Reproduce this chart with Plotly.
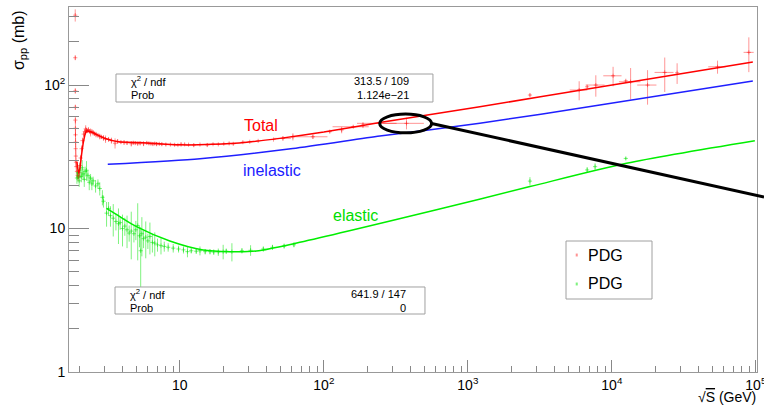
import numpy as np
import plotly.graph_objects as go

# ---- PDG total pp cross section: sqrt(s) [GeV], sigma [mb], errors ----
tot_sqrts = [1.878, 1.879, 1.880, 1.881, 1.882, 1.884, 1.886, 1.889, 1.892, 1.896,
             1.90, 1.91, 1.93, 1.95, 1.97, 1.99, 2.01, 2.03, 2.05, 2.08,
             2.11, 2.15, 2.19, 2.22, 2.25, 2.28, 2.32, 2.36, 2.40, 2.45,
             2.50, 2.56, 2.62, 2.70, 2.78, 2.85, 2.95, 3.05, 3.20, 3.35,
             3.55, 3.70, 3.90, 4.10, 4.30, 4.60, 4.75, 4.90, 5.10, 5.30,
             5.60, 5.90, 6.10, 6.30, 6.50, 6.70, 6.90, 7.20, 7.50, 8.00,
             8.60, 9.20, 9.70, 10.2, 10.8, 11.5, 12.5, 13.8, 15.5, 17.0,
             18.5, 20.2, 22.0, 23.5, 27.4, 30.6, 35.0, 44.7, 52.0, 61.0,
             84.0, 110, 133, 160, 187, 245, 375, 2700, 5930, 6740,
             7740, 10200, 12500, 13500, 17700, 23300, 28400, 54200, 89400]
tot_sigma = [307, 155, 91, 70, 57, 50, 45, 40, 36, 32,
             29, 27, 25, 23.5, 22.8, 23.2, 24.5, 27.5, 31, 36,
             41, 45.5, 47.5, 49.5, 48.3, 47.8, 48.8, 47.5, 46.8, 47.5,
             46.5, 45.8, 45.2, 44.6, 43.8, 43.5, 42.8, 42.0, 41.8, 41.0,
             39.3, 40.5, 40.0, 39.8, 39.5, 39.0, 39.6, 39.4, 39.0, 39.2,
             39.0, 39.5, 39.2, 39.0, 38.8, 39.1, 38.8, 38.9, 38.7, 38.5,
             38.5, 38.3, 38.2, 38.6, 38.6, 38.4, 38.1, 38.5, 38.2, 38.7,
             38.6, 39.0, 39.2, 38.9, 40.0, 40.2, 40.8, 41.7, 42.5, 43.6,
             43.6, 47.3, 48.6, 51.2, 52.6, 54.1, 54.1, 85.2, 92.3, 97.3,
             100, 116, 107, 105.4, 100, 122.5, 121.8, 134, 169]
tot_err = [30, 6, 4, 3, 3, 6, 4, 3, 3, 3,
           2, 2, 2, 1.5, 1.5, 1, 1.5, 1.5, 1.5, 2,
           2, 2, 2, 3, 2, 1.5, 2, 1.5, 3, 1.5,
           2, 1.5, 2, 1.5, 2, 1.5, 2, 2.5, 1.5, 2,
           3.2, 1.5, 1, 1.5, 1.2, 1.7, 1, 1, 1, 1,
           1.5, 1, 1, 0.8, 1, 0.8, 1.3, 0.8, 1.0, 0.8,
           0.5, 0.6, 0.5, 1.2, 0.5, 0.5, 1, 0.5, 1, 0.5,
           0.5, 0.6, 0.6, 0.5, 0.4, 0.3, 0.4, 0.3, 1.5, 2.5,
           1.5, 1, 2.5, 1, 2.5, 1, 5, 2, 14, 2,
           17, 18, 2, 26, 27, 33, 20, 14, 46]
tot_xerr = [0] * 78 + [7, 0,
            22, 0, 0, 45, 0, 75, 120, 0, 830, 0,
            1160, 1480, 0, 2300, 2700, 3500, 0, 7500, 7200]

# ---- PDG elastic pp cross section ----
el_sqrts = [1.93, 1.96, 2.00, 2.03, 2.07, 2.10, 2.13, 2.17, 2.20, 2.25,
            2.30, 2.35, 2.40, 2.45, 2.50, 2.60, 2.70, 2.78, 2.90, 2.95,
            3.10, 3.20, 3.30, 3.45, 3.60, 3.75, 3.85, 4.00, 4.15, 4.30,
            4.45, 4.60, 4.80, 4.95, 5.10, 5.25, 5.35, 5.45, 5.60, 5.80,
            6.00, 6.20, 6.45, 6.70, 7.00, 7.40, 7.80, 8.30, 9.00, 9.80,
            10.6, 11.3, 12.0, 13.0, 13.8, 15.0, 16.2, 17.2, 18.5, 20.0,
            21.0, 23.0, 27.0, 31.0, 38.0, 44.0, 53.0, 62.0, 2700, 6740,
            7650, 12500]
el_sigma = [22.5, 24.5, 21.5, 25.5, 23.0, 26.5, 24.0, 22.0, 25.0, 25.5,
            23.5, 21.0, 22.5, 20.5, 21.5, 19.8, 20.5, 19.0, 16.5, 15.5,
            12.8, 13.8, 12.3, 11.8, 11.2, 10.8, 11.0, 10.0, 10.4, 9.8,
            9.3, 9.6, 9.2, 9.8, 10.5, 8.9, 7.0, 9.2, 8.5, 8.7,
            8.2, 8.8, 8.0, 7.9, 7.7, 7.6, 7.5, 7.4, 7.3, 7.2,
            7.1, 6.9, 7.0, 6.95, 7.0, 6.9, 6.9, 6.85, 6.85, 6.9,
            6.95, 6.9, 7.0, 7.05, 7.2, 7.4, 7.55, 7.7, 21.4, 25.6,
            27.0, 30.8]
el_err = [2, 2.5, 2, 3, 2, 3.5, 2, 2.5, 2, 4,
          2, 2.5, 1.5, 2, 1.5, 2, 1.5, 2, 2, 1.5,
          2.5, 1.5, 2, 3, 1.5, 3, 1.2, 2.5, 1.5, 2.5,
          1.2, 3.5, 1.2, 1.5, 4.5, 1.5, 3.2, 2.8, 1.2, 2.5,
          1, 2.2, 1.2, 1.5, 0.8, 1.0, 0.6, 0.5, 0.5, 0.4,
          0.4, 0.6, 0.3, 0.3, 0.5, 0.3, 0.3, 0.3, 0.4, 0.8,
          0.3, 1.0, 0.3, 0.6, 0.3, 0.3, 0.3, 0.3, 1.4, 1.2,
          1.5, 0.6]

# ---- fitted curves (sqrt(s) [GeV], sigma [mb]) ----
fit_tot_sqrts = [1.93, 1.98, 2.02, 2.08, 2.14, 2.20, 2.26, 2.40, 2.60, 3.0,
                 3.75, 5.27, 10.0, 16.9, 29.2, 49.5, 100, 245, 1211, 8260, 95300]
fit_tot_sigma = [29.2, 24.3, 26.0, 33.0, 40.0, 45.5, 47.8, 47.2, 45.6, 42.6,
                 40.3, 39.7, 38.3, 38.6, 39.9, 42.5, 47.0, 54.8, 70.6, 96.8, 144.6]
fit_inel_sqrts = [3.16, 13.8, 60.9, 245, 1211, 8260, 95300]
fit_inel_sigma = [28.0, 30.7, 36.1, 44.1, 54.1, 72.5, 106.6]
fit_el_sqrts = [3.10, 3.83, 5.0, 8.52, 14.5, 22.2, 34.0, 68.1, 606, 2700, 12650, 98400]
fit_el_sigma = [13.8, 12.1, 10.3, 8.18, 7.08, 6.89, 6.97, 8.01, 13.5, 19.6, 28.5, 40.9]

# ---- fit statistics ----
tot_stats = ["313.5 / 109", "1.124e\u221221"]
el_stats = ["641.9 / 147", "0"]
stat_names = ["\u03c7<sup>2</sup> / ndf", "Prob"]

# ---- axes ----
X_RANGE = [np.log10(1.7), 5.008]
Y_RANGE = [0.0, 2.544]
x_major = [10, 100, 1e3, 1e4, 1e5]
x_major_text = ["10", "10<sup>2</sup>", "10<sup>3</sup>", "10<sup>4</sup>", "10<sup>5</sup>"]
y_major = [1, 10, 100]
y_major_text = ["1", "10", "10<sup>2</sup>"]

FONT = "Liberation Sans, Arial, Helvetica, sans-serif"
RED_PT = "rgba(255,0,0,0.42)"
GREEN_PT = "rgba(0,230,0,0.5)"


def minor_vals(lo_exp, hi_exp, vmin, vmax):
    vals = []
    for e in range(lo_exp, hi_exp + 1):
        for m in range(2, 10):
            v = m * 10.0 ** e
            if vmin <= v <= vmax:
                vals.append(v)
    return vals


def paper_x(v):
    return (np.log10(v) - X_RANGE[0]) / (X_RANGE[1] - X_RANGE[0])


def paper_y(v):
    return (np.log10(v) - Y_RANGE[0]) / (Y_RANGE[1] - Y_RANGE[0])


fig = go.Figure()

# data points
fig.add_trace(go.Scatter(
    x=tot_sqrts, y=tot_sigma, mode="markers",
    marker=dict(symbol="cross-thin", size=3, color=RED_PT, line=dict(width=1, color=RED_PT)),
    error_y=dict(type="data", array=tot_err, width=0, thickness=1, color=RED_PT),
    error_x=dict(type="data", array=tot_xerr, width=0, thickness=1, color=RED_PT),
    showlegend=False))
fig.add_trace(go.Scatter(
    x=el_sqrts, y=el_sigma, mode="markers",
    marker=dict(symbol="cross-thin", size=3, color=GREEN_PT, line=dict(width=1, color=GREEN_PT)),
    error_y=dict(type="data", array=el_err, width=0, thickness=1, color=GREEN_PT),
    showlegend=False))

# fit curves
fig.add_trace(go.Scatter(x=fit_tot_sqrts, y=fit_tot_sigma, mode="lines",
                         line=dict(color="#ff0000", width=1.5, shape="spline", smoothing=0.5),
                         showlegend=False))
fig.add_trace(go.Scatter(x=fit_inel_sqrts, y=fit_inel_sigma, mode="lines",
                         line=dict(color="#1f1fff", width=1.5, shape="spline", smoothing=0.6),
                         showlegend=False))
fig.add_trace(go.Scatter(x=fit_el_sqrts, y=fit_el_sigma, mode="lines",
                         line=dict(color="#00ee00", width=1.5, shape="spline", smoothing=0.8),
                         showlegend=False))

shapes = []
annotations = []


# statistics boxes
def stat_box(x0, x1, y0, y1, tx_l, tx_r, rows_y, values):
    shapes.append(dict(type="rect", xref="paper", yref="paper", x0=x0, x1=x1, y0=y0, y1=y1,
                       line=dict(color="#a0a0a0", width=1), fillcolor="white", layer="above"))
    for name, val, ry in zip(stat_names, values, rows_y):
        annotations.append(dict(xref="paper", yref="paper", x=tx_l, y=ry, text=name,
                                showarrow=False, xanchor="left", yanchor="middle",
                                font=dict(family=FONT, size=11, color="black")))
        annotations.append(dict(xref="paper", yref="paper", x=tx_r, y=ry, text=val,
                                showarrow=False, xanchor="right", yanchor="middle",
                                font=dict(family=FONT, size=11, color="black")))


stat_box(0.0683, 0.529, 0.7397, 0.8164, 0.0872, 0.4978, [0.7973, 0.7589], tot_stats)
stat_box(0.0669, 0.5174, 0.1589, 0.2329, 0.0858, 0.4927, [0.2137, 0.1753], el_stats)

# legend box
shapes.append(dict(type="rect", xref="paper", yref="paper", x0=0.7224, x1=0.8474, y0=0.2, y1=0.3589,
                   line=dict(color="#a0a0a0", width=1), fillcolor="white", layer="above"))
for col, ly in [(RED_PT, 0.3205), (GREEN_PT, 0.2411)]:
    shapes.append(dict(type="rect", xref="paper", yref="paper",
                       x0=0.7365, x1=0.7395, y0=ly - 0.004, y1=ly + 0.004,
                       line=dict(width=0), fillcolor=col, layer="above"))
    annotations.append(dict(xref="paper", yref="paper", x=0.7515, y=ly, text="PDG",
                            showarrow=False, xanchor="left", yanchor="middle",
                            font=dict(family=FONT, size=16, color="black")))

# curve labels
for txt, lx, ly, col in [("Total", 36.5, 52.6, "#ff0000"),
                         ("inelastic", 43.5, 25.2, "#2020ff"),
                         ("elastic", 167, 12.4, "#00dd00")]:
    annotations.append(dict(xref="x", yref="y", x=np.log10(lx), y=np.log10(ly), text=txt,
                            showarrow=False, xanchor="center", yanchor="middle",
                            font=dict(family=FONT, size=16, color=col)))

# highlighted region with pointer line
ecx, ecy = 370.0, 54.0
edx, edy = 0.18, 0.065
ex0 = paper_x(ecx / 10 ** edx)
ex1 = paper_x(ecx * 10 ** edx)
shapes.append(dict(type="circle", xref="paper", yref="paper",
                   x0=ex0, x1=ex1,
                   y0=paper_y(ecy / 10 ** edy), y1=paper_y(ecy * 10 ** edy),
                   line=dict(color="black", width=3), layer="above"))
shapes.append(dict(type="line", xref="paper", yref="paper",
                   x0=ex1, y0=paper_y(ecy), x1=1.0102, y1=0.4795,
                   line=dict(color="black", width=3), layer="above"))

# axis titles
annotations.append(dict(xref="paper", yref="paper", x=-0.0727, y=0.997,
                        text="\u03c3<sub>pp</sub> (mb)", textangle=-90, showarrow=False,
                        xanchor="center", yanchor="top",
                        font=dict(family=FONT, size=16, color="black")))
annotations.append(dict(xref="paper", yref="paper", x=1.0015, y=-0.0685,
                        text="\u221a<span style='text-decoration:overline'>S</span> (GeV)",
                        showarrow=False, xanchor="right", yanchor="middle",
                        font=dict(family=FONT, size=14, color="black")))

axis_common = dict(type="log", showgrid=False, zeroline=False, showline=True,
                   linecolor="#999999", linewidth=1, mirror=True, ticks="inside",
                   tickcolor="#888888", tickwidth=1, automargin=False,
                   tickfont=dict(family=FONT, size=14, color="black"))

fig.update_layout(
    width=764, height=409,
    margin=dict(l=69, r=7, t=7, b=37, autoexpand=False),
    paper_bgcolor="white", plot_bgcolor="white",
    showlegend=False,
    xaxis=dict(range=X_RANGE, tickmode="array", tickvals=x_major, ticktext=x_major_text,
               ticklen=12, ticklabeloverflow="allow",
               minor=dict(tickmode="array", tickvals=minor_vals(0, 4, 1.7, 1e5),
                          ticks="inside", ticklen=6, tickcolor="#888888", showgrid=False),
               **axis_common),
    yaxis=dict(range=Y_RANGE, tickmode="array", tickvals=y_major, ticktext=y_major_text,
               ticklen=20,
               minor=dict(tickmode="array", tickvals=minor_vals(0, 2, 1, 350),
                          ticks="inside", ticklen=10, tickcolor="#888888", showgrid=False),
               **axis_common),
    shapes=shapes,
    annotations=annotations,
)

fig.write_html("out.html")
